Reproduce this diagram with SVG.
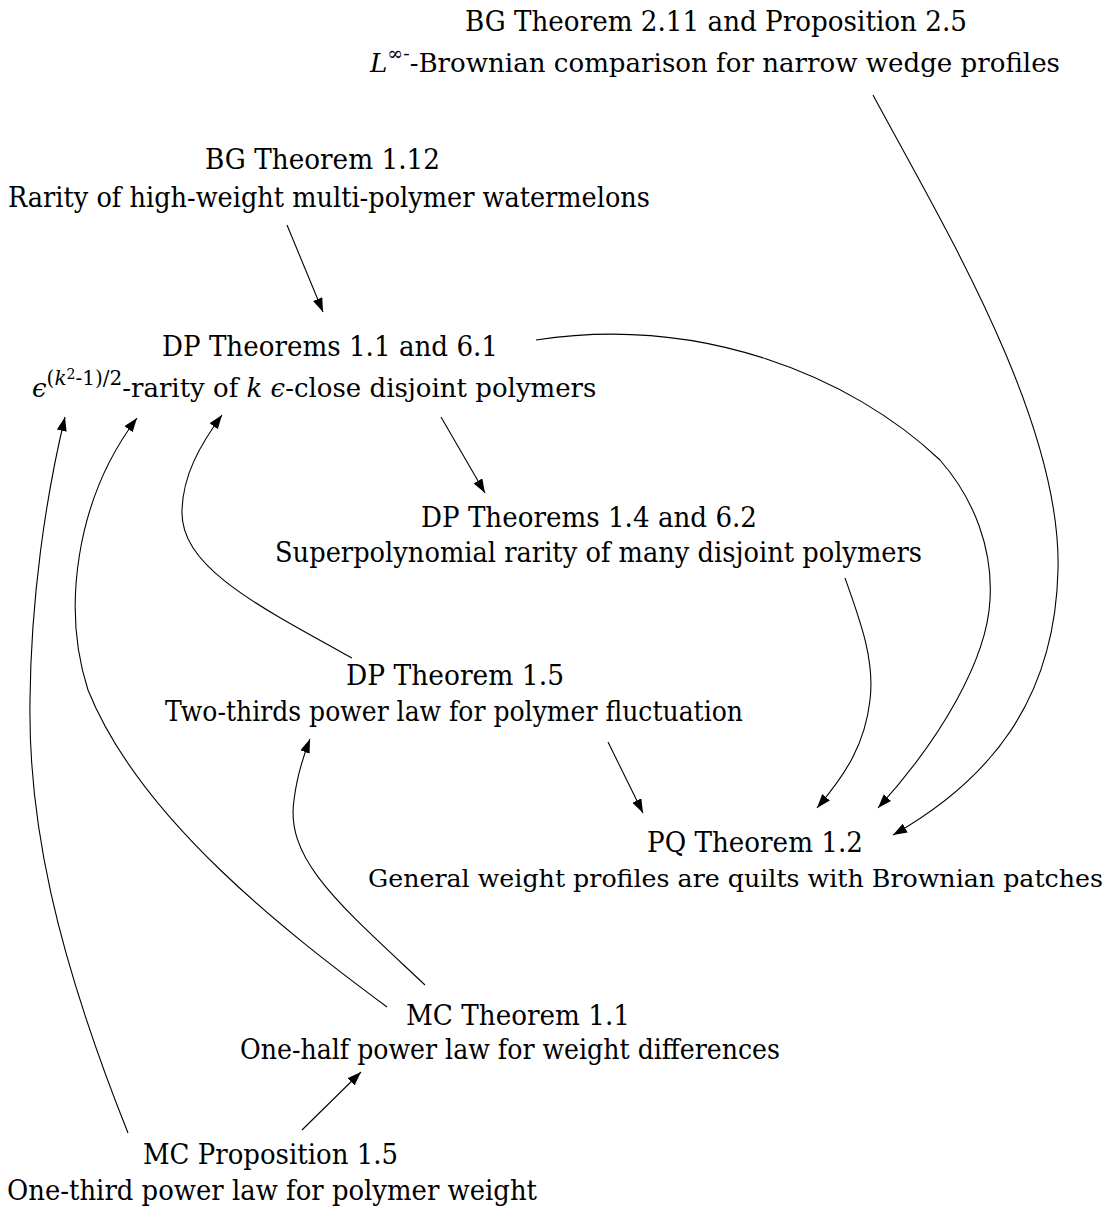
<svg xmlns="http://www.w3.org/2000/svg" width="1108" height="1216" viewBox="0 0 1108 1216">
<style>
.t{font-family:'DejaVu Serif','Liberation Serif',serif;font-size:27px;fill:#000}
.n{font-size:25px}
.m{font-size:26px}
.i{font-style:italic}
.s{font-size:19px}
.u{font-size:20px}
.e{fill:none;stroke:#000;stroke-width:1.1}
</style>
<defs>
<marker id="ah" markerUnits="userSpaceOnUse" markerWidth="15" markerHeight="11" refX="14" refY="5" orient="auto">
<path d="M0,0 L14,5 L0,10 z" fill="#000"/>
</marker>
</defs>
<rect width="1108" height="1216" fill="#fff"/>
<g id="connectors">
<path class="e" marker-end="url(#ah)" d="M873,95 C940,220 1062,420 1058,570 C1055,700 990,780 893,835"/>
<path class="e" marker-end="url(#ah)" d="M287,225 L323,312"/>
<path class="e" marker-end="url(#ah)" d="M536,340 C700,315 850,375 940,460 C975,500 993,550 990,600 C987,660 940,740 878,808"/>
<path class="e" marker-end="url(#ah)" d="M441,417 L485,493"/>
<path class="e" marker-end="url(#ah)" d="M845,578 C860,620 875,660 870,700 C865,745 845,775 817,808"/>
<path class="e" marker-end="url(#ah)" d="M352,658 C250,602 180,565 182,510 C183,475 200,445 222,415"/>
<path class="e" marker-end="url(#ah)" d="M608,742 L643,813"/>
<path class="e" marker-end="url(#ah)" d="M425,985 C340,905 285,860 294,800 C297,775 303,757 310,739"/>
<path class="e" marker-end="url(#ah)" d="M387,1007 C290,935 140,820 88,690 C62,610 75,500 137,418"/>
<path class="e" marker-end="url(#ah)" d="M128,1133 C55,950 28,820 30,700 C31,600 45,500 65,417"/>
<path class="e" marker-end="url(#ah)" d="M302,1130 L361,1072"/>
</g>
<g id="bg211">
<text class="t" x="465" y="31" textLength="502" lengthAdjust="spacingAndGlyphs">BG Theorem 2.11 and Proposition 2.5</text>
<text class="t m" x="370" y="72" textLength="690" lengthAdjust="spacingAndGlyphs"><tspan class="i">L</tspan><tspan class="s" dy="-12">∞-</tspan><tspan dy="12">-Brownian comparison for narrow wedge profiles</tspan></text>
</g>
<g id="bg112">
<text class="t" x="205" y="169" textLength="235" lengthAdjust="spacingAndGlyphs">BG Theorem 1.12</text>
<text class="t" x="8" y="207" textLength="642" lengthAdjust="spacingAndGlyphs">Rarity of high-weight multi-polymer watermelons</text>
</g>
<g id="dp11">
<text class="t" x="162" y="356" textLength="336" lengthAdjust="spacingAndGlyphs">DP Theorems 1.1 and 6.1</text>
<text class="t m" x="32" y="397"><tspan class="i">ϵ</tspan><tspan class="u" dy="-12">(</tspan><tspan class="u i">k</tspan><tspan font-size="14" dy="-6">2</tspan><tspan class="u" dy="6">-1)/2</tspan><tspan dy="12">-rarity of </tspan><tspan class="i">k ϵ</tspan><tspan>-close disjoint polymers</tspan></text>
</g>
<g id="dp14">
<text class="t" x="421" y="527" textLength="336" lengthAdjust="spacingAndGlyphs">DP Theorems 1.4 and 6.2</text>
<text class="t" x="275" y="562" textLength="647" lengthAdjust="spacingAndGlyphs">Superpolynomial rarity of many disjoint polymers</text>
</g>
<g id="dp15">
<text class="t" x="346" y="685" textLength="218" lengthAdjust="spacingAndGlyphs">DP Theorem 1.5</text>
<text class="t" x="165" y="721" textLength="578" lengthAdjust="spacingAndGlyphs">Two-thirds power law for polymer fluctuation</text>
</g>
<g id="pq12">
<text class="t" x="647" y="852" textLength="216" lengthAdjust="spacingAndGlyphs">PQ Theorem 1.2</text>
<text class="t n" x="368" y="887" textLength="735" lengthAdjust="spacingAndGlyphs">General weight profiles are quilts with Brownian patches</text>
</g>
<g id="mc11">
<text class="t" x="406" y="1025" textLength="224" lengthAdjust="spacingAndGlyphs">MC Theorem 1.1</text>
<text class="t" x="240" y="1059" textLength="540" lengthAdjust="spacingAndGlyphs">One-half power law for weight differences</text>
</g>
<g id="mc15">
<text class="t" x="143" y="1164" textLength="255" lengthAdjust="spacingAndGlyphs">MC Proposition 1.5</text>
<text class="t" x="7" y="1200" textLength="530" lengthAdjust="spacingAndGlyphs">One-third power law for polymer weight</text>
</g>
</svg>
